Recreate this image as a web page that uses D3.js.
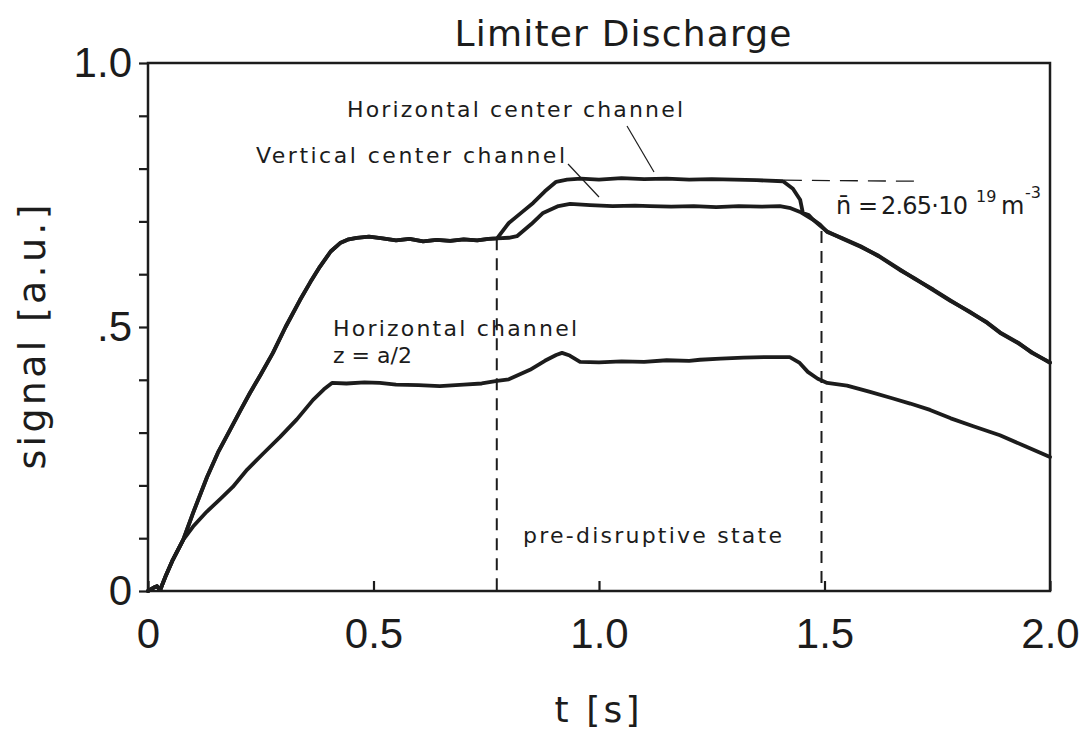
<!DOCTYPE html>
<html><head><meta charset="utf-8">
<script src="https://cdn.jsdelivr.net/npm/d3@7"></script>
<style>
html,body{margin:0;padding:0;background:#fff;}
svg{display:block;}
</style></head>
<body>
<script>
// ---- data ----
const hcT = [0, 0.012, 0.02, 0.027, 0.04, 0.055, 0.078, 0.10, 0.131, 0.155, 0.182, 0.205, 0.226, 0.25, 0.277, 0.305, 0.337, 0.36, 0.381, 0.405, 0.426, 0.445, 0.463, 0.49, 0.52, 0.55, 0.58, 0.61, 0.64, 0.67, 0.70, 0.73, 0.755, 0.774, 0.80, 0.83, 0.854, 0.88, 0.905, 0.929, 0.96, 1.0, 1.05, 1.1, 1.15, 1.2, 1.25, 1.3, 1.35, 1.408, 1.43, 1.446, 1.452, 1.465, 1.475, 1.49, 1.506, 1.54, 1.58, 1.62, 1.667, 1.70, 1.741, 1.78, 1.82, 1.86, 1.889, 1.93, 1.96, 2.0];
const hcV = [0, 0.006, 0.009, 0.002, 0.03, 0.059, 0.097, 0.148, 0.216, 0.262, 0.305, 0.342, 0.375, 0.41, 0.451, 0.50, 0.551, 0.585, 0.614, 0.643, 0.659, 0.666, 0.669, 0.671, 0.668, 0.664, 0.667, 0.662, 0.665, 0.663, 0.666, 0.664, 0.667, 0.668, 0.697, 0.718, 0.735, 0.757, 0.775, 0.779, 0.781, 0.779, 0.782, 0.780, 0.781, 0.779, 0.780, 0.779, 0.778, 0.776, 0.762, 0.741, 0.716, 0.712, 0.703, 0.694, 0.68, 0.668, 0.653, 0.634, 0.608, 0.592, 0.57, 0.549, 0.53, 0.508, 0.489, 0.469, 0.452, 0.432];

const vcT = [0, 0.012, 0.02, 0.027, 0.04, 0.055, 0.078, 0.10, 0.131, 0.155, 0.182, 0.205, 0.226, 0.25, 0.277, 0.305, 0.337, 0.36, 0.381, 0.405, 0.426, 0.445, 0.463, 0.49, 0.52, 0.55, 0.58, 0.61, 0.64, 0.67, 0.70, 0.73, 0.755, 0.774, 0.80, 0.818, 0.85, 0.876, 0.91, 0.936, 0.98, 1.03, 1.08, 1.113, 1.16, 1.21, 1.26, 1.31, 1.36, 1.401, 1.425, 1.446, 1.475, 1.49, 1.506, 1.54, 1.58, 1.62, 1.667, 1.70, 1.741, 1.78, 1.82, 1.86, 1.889, 1.93, 1.96, 2.0];
const vcV = [0, 0.006, 0.009, 0.002, 0.03, 0.059, 0.097, 0.148, 0.216, 0.262, 0.305, 0.342, 0.375, 0.41, 0.451, 0.50, 0.551, 0.585, 0.614, 0.643, 0.659, 0.666, 0.669, 0.671, 0.668, 0.664, 0.667, 0.662, 0.665, 0.663, 0.666, 0.664, 0.667, 0.668, 0.669, 0.672, 0.695, 0.716, 0.729, 0.733, 0.731, 0.729, 0.730, 0.729, 0.728, 0.729, 0.727, 0.729, 0.728, 0.729, 0.725, 0.718, 0.703, 0.692, 0.681, 0.667, 0.652, 0.635, 0.609, 0.591, 0.571, 0.55, 0.529, 0.509, 0.49, 0.47, 0.451, 0.433];

const hT = [0, 0.012, 0.02, 0.027, 0.04, 0.055, 0.078, 0.10, 0.13, 0.16, 0.188, 0.22, 0.255, 0.293, 0.33, 0.366, 0.39, 0.408, 0.44, 0.48, 0.514, 0.55, 0.6, 0.647, 0.7, 0.74, 0.774, 0.80, 0.847, 0.88, 0.905, 0.918, 0.935, 0.958, 1.0, 1.05, 1.1, 1.15, 1.2, 1.224, 1.27, 1.32, 1.37, 1.423, 1.445, 1.463, 1.485, 1.506, 1.55, 1.601, 1.65, 1.69, 1.734, 1.78, 1.83, 1.889, 1.94, 2.0];
const hV = [0, 0.006, 0.009, 0.002, 0.03, 0.059, 0.097, 0.122, 0.150, 0.174, 0.197, 0.23, 0.26, 0.292, 0.325, 0.362, 0.382, 0.394, 0.393, 0.395, 0.394, 0.391, 0.390, 0.388, 0.391, 0.393, 0.398, 0.401, 0.419, 0.436, 0.447, 0.451, 0.446, 0.434, 0.433, 0.435, 0.434, 0.437, 0.436, 0.438, 0.440, 0.442, 0.443, 0.443, 0.432, 0.415, 0.402, 0.394, 0.389, 0.377, 0.365, 0.355, 0.343, 0.327, 0.312, 0.295, 0.276, 0.254];

const xTicks = [0, 0.5, 1.0, 1.5, 2.0];
const xTickLabels = ["0", "0.5", "1.0", "1.5", "2.0"];
const yTicks = [0, 0.1, 0.2, 0.3, 0.4, 0.5, 0.6, 0.7, 0.8, 0.9, 1.0];
const yTickLabels = {"0": "0", "0.5": ".5", "1": "1.0"};
const markerTimes = [0.78, 1.5];
const densityLevel = 0.778;

// ---- drawing ----
const W = 1083, H = 736;
const svg = d3.select("body").append("svg").attr("width", W).attr("height", H);
const x = d3.scaleLinear().domain([0, 2]).range([148, 1050]);
const y = d3.scaleLinear().domain([0, 1]).range([591, 63]);
const ink = "#1c1c1c";
const tickFont = "'Liberation Sans', Arial, sans-serif";
const textFont = "'DejaVu Sans', sans-serif";

// frame
svg.append("rect").attr("x", x(0)).attr("y", y(1)).attr("width", x(2) - x(0)).attr("height", y(0) - y(1))
  .attr("fill", "none").attr("stroke", ink).attr("stroke-width", 2.5);

// y axis
const yAxis = svg.append("g").attr("transform", `translate(${x(0)},0)`)
  .call(d3.axisLeft(y).tickValues(yTicks).tickSize(9).tickPadding(7)
    .tickFormat(d => yTickLabels[String(+d.toFixed(1))] || ""));
yAxis.select(".domain").remove();
yAxis.selectAll(".tick line").attr("stroke", ink).attr("stroke-width", 2.2);
yAxis.selectAll(".tick text").attr("fill", ink).style("font-family", tickFont).style("font-size", "42px");

// x axis
const xAxis = svg.append("g").attr("transform", `translate(0,${y(0)})`)
  .call(d3.axisBottom(x).tickValues(xTicks).tickSize(-10).tickPadding(27)
    .tickFormat((d, i) => xTickLabels[i]));
xAxis.select(".domain").remove();
xAxis.selectAll(".tick line").attr("stroke", ink).attr("stroke-width", 2.2);
xAxis.selectAll(".tick text").attr("fill", ink).style("font-family", tickFont).style("font-size", "42px");

// axis titles
svg.append("text").attr("x", 623).attr("y", 46).attr("text-anchor", "middle")
  .attr("textLength", 337).attr("lengthAdjust", "spacing")
  .style("font-family", textFont).style("font-size", "36px").attr("fill", ink).text("Limiter Discharge");
svg.append("text").attr("transform", "translate(45,337) rotate(-90)").attr("text-anchor", "middle")
  .attr("textLength", 265).attr("lengthAdjust", "spacing")
  .style("font-family", textFont).style("font-size", "38px").attr("fill", ink).text("signal [a.u.]");
svg.append("text").attr("x", 597).attr("y", 722).attr("text-anchor", "middle")
  .attr("textLength", 85).attr("lengthAdjust", "spacing")
  .style("font-family", textFont).style("font-size", "36px").attr("fill", ink).text("t [s]");

// dashed markers
markerTimes.forEach((t, i) => {
  const top = i === 0 ? y(0.668) : y(0.682);
  svg.append("line").attr("x1", x(t) - 3).attr("x2", x(t) - 3).attr("y1", top).attr("y2", y(0))
    .attr("stroke", ink).attr("stroke-width", 2).attr("stroke-dasharray", "12,8");
});
svg.append("line").attr("x1", x(1.41)).attr("x2", x(1.705)).attr("y1", y(densityLevel)).attr("y2", y(densityLevel) + 1)
  .attr("stroke", ink).attr("stroke-width", 1.3).attr("stroke-dasharray", "18,10");

// curves
const line = d3.line().x(d => x(d[0])).y(d => y(d[1])).curve(d3.curveLinear);
const series = [d3.zip(hcT, hcV), d3.zip(vcT, vcV), d3.zip(hT, hV)];
series.forEach(s => {
  svg.append("path").datum(s).attr("d", line).attr("fill", "none")
    .attr("stroke", ink).attr("stroke-width", 3.8).attr("stroke-linejoin", "round").attr("stroke-linecap", "round");
});

// annotations
function label(txt, xx, yy, len, size) {
  svg.append("text").attr("x", xx).attr("y", yy).attr("textLength", len).attr("lengthAdjust", "spacing")
    .style("font-family", textFont).style("font-size", size + "px").attr("fill", ink).text(txt);
}
label("Horizontal  center  channel", 347, 117, 336, 22);
label("Vertical  center  channel", 256, 163, 309, 22);
label("Horizontal  channel", 333, 336, 244, 22);
label("z = a/2", 333, 363, 79, 22);
label("pre-disruptive  state", 523, 543, 259, 22);

// leader lines
svg.append("line").attr("x1", 627).attr("y1", 126).attr("x2", 654).attr("y2", 172).attr("stroke", ink).attr("stroke-width", 1.2);
svg.append("line").attr("x1", 568).attr("y1", 164).attr("x2", 599).attr("y2", 197).attr("stroke", ink).attr("stroke-width", 1.2);

// density label
const dens = svg.append("g").style("font-family", textFont).style("font-size", "24px").attr("fill", ink);
dens.append("text").attr("x", 836).attr("y", 214).text("n\u0304");
dens.append("text").attr("x", 858).attr("y", 214).text("=");
dens.append("text").attr("x", 881).attr("y", 214).attr("textLength", 87).attr("lengthAdjust", "spacing").text("2.65\u00b710");
dens.append("text").attr("x", 976).attr("y", 202).style("font-size", "16px").text("19");
dens.append("text").attr("x", 1001).attr("y", 214).text("m");
dens.append("text").attr("x", 1025).attr("y", 198).style("font-size", "16px").text("-3");
</script>
</body></html>
